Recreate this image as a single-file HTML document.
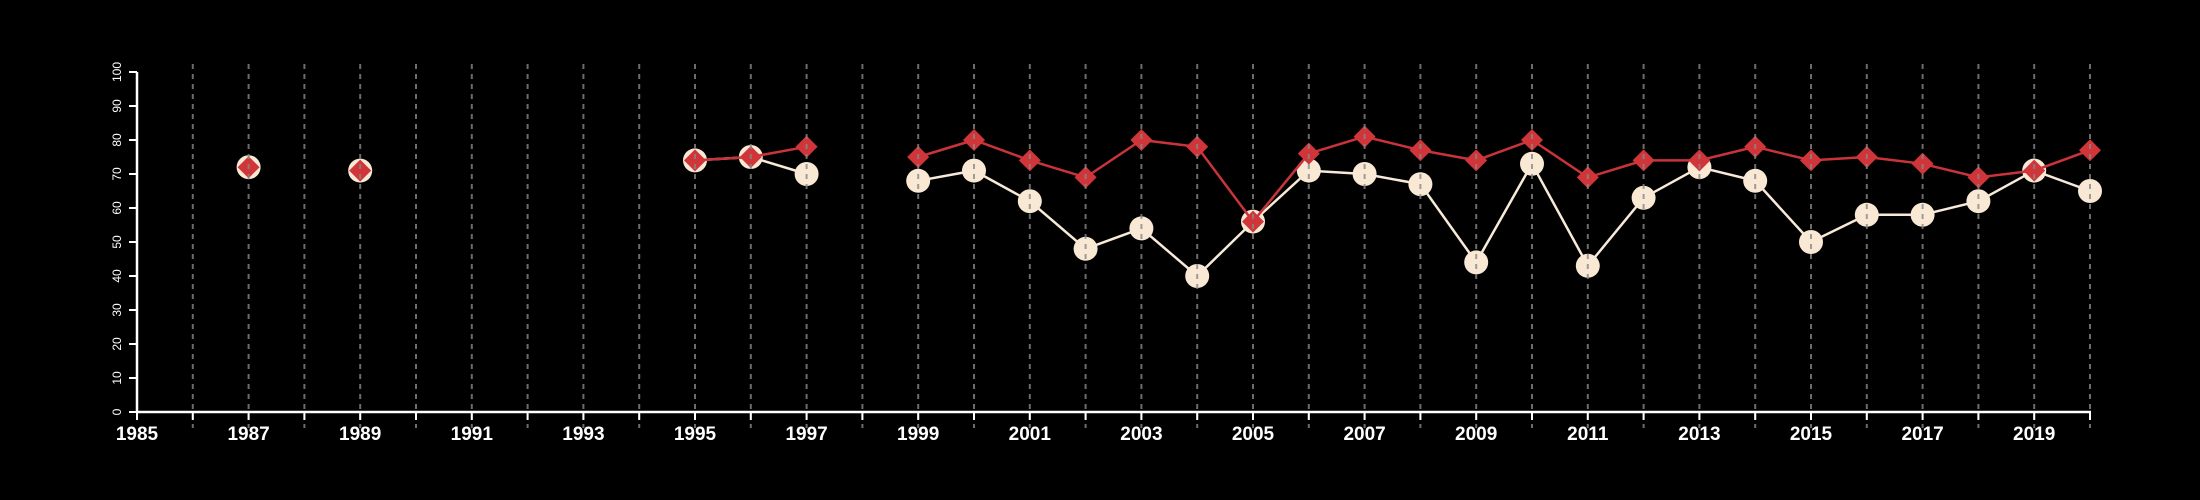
<!DOCTYPE html>
<html><head><meta charset="utf-8"><style>html,body{margin:0;background:#000}svg{display:block}</style></head>
<body>
<svg id="chart" width="2200" height="500" xmlns="http://www.w3.org/2000/svg" style="font-family:'Liberation Sans',sans-serif">
<g id="series"></g><g id="grid"></g><g id="axes"></g>
</svg>
<script>
const years=[1987,1989,1995,1996,1997,1999,2000,2001,2002,2003,2004,2005,2006,2007,2008,2009,2010,2011,2012,2013,2014,2015,2016,2017,2018,2019,2020];
const redValues=[72,71,74,75,78,75,80,74,69,80,78,56,76,81,77,74,80,69,74,74,78,74,75,73,69,71,77];
const creamValues=[72,71,74,75,70,68,71,62,48,54,40,56,71,70,67,44,73,43,63,72,68,50,58,58,62,71,65];
const yTicks=[0,10,20,30,40,50,60,70,80,90,100];
const xTickLabels=[1985,1987,1989,1991,1993,1995,1997,1999,2001,2003,2005,2007,2009,2011,2013,2015,2017,2019];
const NS='http://www.w3.org/2000/svg';
const X=y=>137+(y-1985)*(2090-137)/35;
const Y=v=>412-v*3.4;
function mk(tag,attrs,parent){const e=document.createElementNS(NS,tag);for(const k in attrs)e.setAttribute(k,attrs[k]);parent.appendChild(e);return e;}
const S=document.getElementById('series'),G=document.getElementById('grid'),A=document.getElementById('axes');
function segs(vals){const out=[];let cur=[];years.forEach((y,i)=>{if(i>0&&y-years[i-1]>1){out.push(cur);cur=[];}cur.push([X(y),Y(vals[i])]);});out.push(cur);return out.filter(s=>s.length>1);}
segs(creamValues).forEach(s=>{const p=mk('polyline',{points:s.map(q=>q.join(',')).join(' '),fill:'none',stroke:'#f8ead8','stroke-width':2.5},S);
});
years.forEach((y,i)=>{const c=mk('circle',{cx:X(y),cy:Y(creamValues[i]),r:12,fill:'#f8e8d4'},S);
});
segs(redValues).forEach(s=>{const p=mk('polyline',{points:s.map(q=>q.join(',')).join(' '),fill:'none',stroke:'#c9343a','stroke-width':2.5},S);
});
years.forEach((y,i)=>{const x=X(y),v=Y(redValues[i]),d=11;const p=mk('polygon',{points:`${x},${v-d} ${x+d},${v} ${x},${v+d} ${x-d},${v}`,fill:'#d0353a'},S);
});
for(let y=1986;y<=2020;y++){const l=mk('line',{x1:X(y),x2:X(y),y1:64,y2:428,stroke:'#888','stroke-width':2,'stroke-dasharray':'5,5',opacity:0.8},G);
}
const ya=mk('line',{x1:137,x2:137,y1:Y(100),y2:Y(0)+1,stroke:'#fff','stroke-width':2.5},A);

yTicks.forEach(t=>{mk('line',{x1:129,x2:137,y1:Y(t),y2:Y(t),stroke:'#fff','stroke-width':2},A);
const tx=mk('text',{x:0,y:0,transform:`translate(121,${Y(t)}) rotate(-90)`,'text-anchor':'middle',fill:'#fff','font-size':12},A);tx.textContent=t;
});
const xa=mk('line',{x1:136,x2:X(2020)+1,y1:412,y2:412,stroke:'#fff','stroke-width':2.5},A);

for(let y=1985;y<=2020;y++){mk('line',{x1:X(y),x2:X(y),y1:412,y2:420,stroke:'#fff','stroke-width':2},A);}
xTickLabels.forEach(t=>{const tx=mk('text',{x:X(t),y:440,'text-anchor':'middle',fill:'#fff','font-size':19,'font-weight':'bold'},A);tx.textContent=t;
});
</script>
</body></html>
